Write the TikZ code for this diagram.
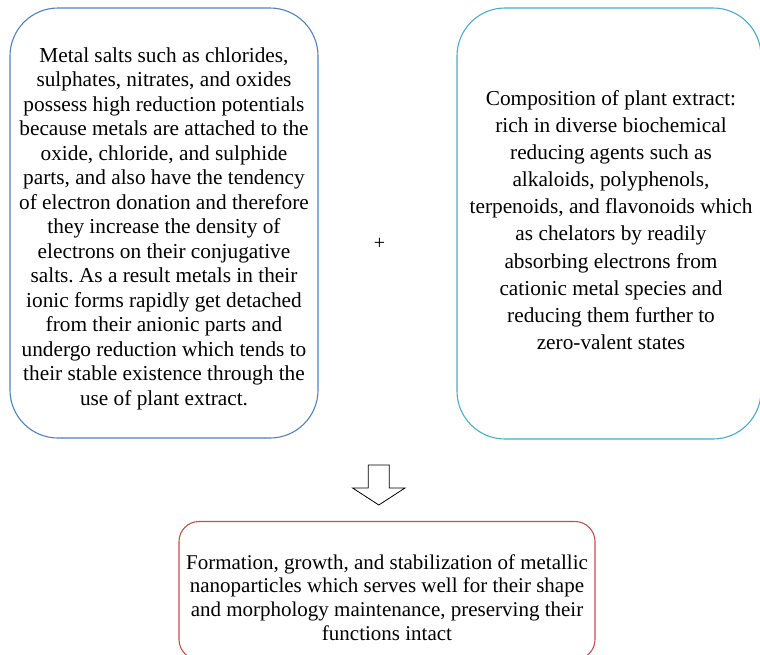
\documentclass[tikz,border=0pt]{standalone}
\usepackage{fontspec}
\setmainfont{Liberation Serif}
\usepackage{xcolor}
\frenchspacing

\begin{document}
\begin{tikzpicture}[
    x=1pt, y=-1pt,
    panel/.style={draw, line width=1.1pt, rounded corners=48pt, inner sep=0pt},
    bodytext/.style={align=center, inner sep=0pt, font=\fontsize{21.3}{24.5}\selectfont},
    blockarrow/.style={draw=black, line width=0.8pt, fill=white, line join=miter}
]

    % Colores de los recuadros
    \definecolor{c_blue}{RGB}{79, 129, 189}
    \definecolor{c_teal}{RGB}{75, 172, 198}
    \definecolor{c_red}{RGB}{192, 80, 77}

    \useasboundingbox (0,0) rectangle (760,654);

    % Recuadro izquierdo (sales metálicas)
    \node[panel, c_blue, minimum width=308pt, minimum height=430pt] (salts) at (164,223) {};
    \node[bodytext] (saltstext) at (164,228.5) {Metal salts such as chlorides,\\
        sulphates, nitrates, and oxides\\
        possess high reduction potentials\\
        because metals are attached to the\\
        oxide, chloride, and sulphide\\
        parts, and also have the tendency\\
        of electron donation and therefore\\
        they increase the density of\\
        electrons on their conjugative\\
        salts. As a result metals in their\\
        ionic forms rapidly get detached\\
        from their anionic parts and\\
        undergo reduction which tends to\\
        their stable existence through the\\
        use of plant extract.};

    % Recuadro derecho (extracto de planta)
    \node[panel, c_teal, minimum width=304pt, minimum height=431pt] (extract) at (609,223.5) {};
    \node[bodytext, font=\fontsize{21.3}{27.1}\selectfont] (extracttext) at (611,220) {Composition of plant extract:\\
        rich in diverse biochemical\\
        reducing agents such as\\
        alkaloids, polyphenols,\\
        terpenoids, and flavonoids which\\
        as chelators by readily\\
        absorbing electrons from\\
        cationic metal species and\\
        reducing them further to\\
        zero-valent states};

    % Signo más entre los recuadros
    \node[font=\fontsize{20}{20}\selectfont, inner sep=0pt] (plus) at (379.5,244) {+};

    % Flecha hacia el resultado
    \coordinate (arrtip) at (378.8,505);
    \draw[blockarrow] (arrtip) -- ++(26.2,-17) -- ++(-15.7,0) -- ++(0,-23)
        -- ++(-21,0) -- ++(0,23) -- ++(-15.7,0) -- cycle;

    % Recuadro inferior (resultado)
    \node[panel, c_red, rounded corners=20pt, minimum width=416pt, minimum height=138pt] (result) at (387,590.5) {};
    \node[bodytext, font=\fontsize{21}{23.7}\selectfont] (resulttext) at (387,597.5) {Formation, growth, and stabilization of metallic\\
        nanoparticles which serves well for their shape\\
        and morphology maintenance, preserving their\\
        functions intact};

\end{tikzpicture}
\end{document}
